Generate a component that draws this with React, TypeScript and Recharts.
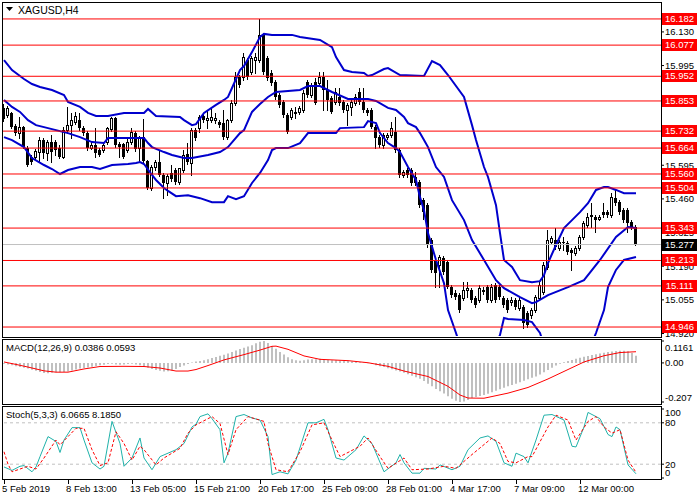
import React from 'react';
import { ComposedChart, Bar, Line, XAxis, YAxis, ReferenceLine } from 'recharts';

const FONT = '"Liberation Sans", Arial, sans-serif';

// bottom time axis: bar index -> label
const timeTicks = [0, 16, 32, 48, 64, 80, 96, 112, 128, 144];
const timeLabels = ['5 Feb 2019', '8 Feb 13:00', '13 Feb 05:00', '15 Feb 21:00', '20 Feb 17:00',
    '25 Feb 09:00', '28 Feb 01:00', '4 Mar 17:00', '7 Mar 09:00', '12 Mar 00:00'];

// XAGUSD H4 candles
const opens = [
    15.825, 15.797, 15.805, 15.752, 15.724, 15.748, 15.664, 15.628, 15.628, 15.648,
    15.696, 15.644, 15.688, 15.688, 15.664, 15.628, 15.736, 15.756, 15.768, 15.776,
    15.744, 15.724, 15.664, 15.676, 15.656, 15.656, 15.688, 15.740, 15.785, 15.680,
    15.680, 15.656, 15.688, 15.724, 15.664, 15.708, 15.612, 15.504, 15.588, 15.608,
    15.556, 15.524, 15.564, 15.576, 15.528, 15.576, 15.640, 15.604, 15.736, 15.744,
    15.793, 15.776, 15.776, 15.776, 15.768, 15.764, 15.708, 15.776, 15.845, 15.949,
    15.949, 16.017, 15.969, 16.017, 16.017, 16.118, 16.025, 15.965, 15.929, 15.877,
    15.849, 15.797, 15.789, 15.805, 15.809, 15.817, 15.929, 15.877, 15.929, 15.925,
    15.949, 15.897, 15.865, 15.849, 15.869, 15.849, 15.817, 15.829, 15.845, 15.889,
    15.849, 15.817, 15.817, 15.748, 15.708, 15.676, 15.708, 15.716, 15.728, 15.656,
    15.556, 15.576, 15.576, 15.548, 15.528, 15.455, 15.435, 15.295, 15.215, 15.195,
    15.223, 15.207, 15.106, 15.082, 15.074, 15.062, 15.094, 15.094, 15.062, 15.054,
    15.094, 15.106, 15.054, 15.114, 15.106, 15.062, 15.054, 15.046, 15.054, 15.022,
    15.026, 15.002, 14.994, 15.014, 15.062, 15.086, 15.187, 15.287, 15.295, 15.263,
    15.287, 15.283, 15.255, 15.243, 15.263, 15.307, 15.355, 15.395, 15.387, 15.379,
    15.407, 15.407, 15.395, 15.463, 15.447, 15.415, 15.415, 15.367, 15.347,
];
const highs = [
    15.841, 15.833, 15.809, 15.760, 15.789, 15.752, 15.672, 15.636, 15.660, 15.708,
    15.704, 15.696, 15.716, 15.696, 15.676, 15.748, 15.829, 15.805, 15.809, 15.805,
    15.752, 15.732, 15.688, 15.744, 15.664, 15.684, 15.748, 15.789, 15.789, 15.688,
    15.684, 15.708, 15.744, 15.732, 15.712, 15.780, 15.616, 15.596, 15.616, 15.656,
    15.564, 15.560, 15.596, 15.584, 15.584, 15.656, 15.684, 15.744, 15.744, 15.797,
    15.801, 15.817, 15.825, 15.805, 15.776, 15.817, 15.780, 15.857, 15.969, 15.957,
    16.045, 16.025, 16.033, 16.045, 16.182, 16.126, 16.033, 15.977, 15.937, 15.885,
    15.857, 15.805, 15.825, 15.829, 15.833, 15.897, 15.937, 15.925, 15.945, 15.969,
    15.969, 15.937, 15.873, 15.905, 15.905, 15.857, 15.845, 15.861, 15.881, 15.905,
    15.905, 15.825, 15.825, 15.756, 15.716, 15.724, 15.724, 15.768, 15.789, 15.664,
    15.576, 15.584, 15.584, 15.568, 15.536, 15.463, 15.443, 15.303, 15.223, 15.235,
    15.231, 15.215, 15.114, 15.094, 15.082, 15.126, 15.126, 15.102, 15.070, 15.114,
    15.106, 15.114, 15.118, 15.122, 15.114, 15.070, 15.062, 15.066, 15.062, 15.066,
    15.034, 15.010, 15.022, 15.074, 15.126, 15.207, 15.335, 15.311, 15.343, 15.295,
    15.307, 15.291, 15.263, 15.271, 15.315, 15.371, 15.403, 15.443, 15.395, 15.395,
    15.443, 15.415, 15.483, 15.496, 15.455, 15.423, 15.423, 15.375, 15.355,
];
const lows = [
    15.772, 15.789, 15.744, 15.716, 15.704, 15.664, 15.592, 15.600, 15.616, 15.608,
    15.624, 15.616, 15.608, 15.636, 15.624, 15.624, 15.724, 15.704, 15.760, 15.736,
    15.716, 15.656, 15.660, 15.628, 15.632, 15.648, 15.680, 15.732, 15.668, 15.628,
    15.624, 15.648, 15.680, 15.652, 15.608, 15.608, 15.500, 15.496, 15.576, 15.552,
    15.463, 15.476, 15.532, 15.520, 15.520, 15.568, 15.600, 15.556, 15.696, 15.728,
    15.768, 15.744, 15.768, 15.764, 15.748, 15.700, 15.700, 15.768, 15.837, 15.909,
    15.937, 15.941, 15.961, 15.965, 16.009, 15.961, 15.937, 15.917, 15.861, 15.829,
    15.789, 15.724, 15.780, 15.785, 15.801, 15.809, 15.869, 15.869, 15.841, 15.917,
    15.817, 15.817, 15.805, 15.841, 15.837, 15.809, 15.756, 15.797, 15.837, 15.841,
    15.809, 15.797, 15.744, 15.664, 15.668, 15.664, 15.700, 15.708, 15.648, 15.548,
    15.548, 15.548, 15.516, 15.516, 15.427, 15.379, 15.267, 15.167, 15.106, 15.106,
    15.159, 15.102, 15.066, 15.058, 15.006, 15.054, 15.066, 15.046, 15.026, 15.046,
    15.078, 15.046, 15.046, 15.046, 15.058, 15.026, 15.006, 15.034, 15.018, 15.014,
    14.942, 14.946, 14.982, 15.006, 15.054, 15.078, 15.179, 15.279, 15.259, 15.255,
    15.255, 15.239, 15.175, 15.235, 15.255, 15.299, 15.347, 15.347, 15.327, 15.375,
    15.387, 15.387, 15.387, 15.435, 15.399, 15.367, 15.327, 15.339, 15.275,
];
const closes = [
    15.780, 15.825, 15.748, 15.724, 15.748, 15.668, 15.596, 15.608, 15.652, 15.696,
    15.644, 15.688, 15.648, 15.656, 15.628, 15.736, 15.756, 15.776, 15.793, 15.744,
    15.724, 15.664, 15.676, 15.644, 15.636, 15.676, 15.744, 15.785, 15.676, 15.668,
    15.628, 15.688, 15.728, 15.660, 15.704, 15.612, 15.504, 15.588, 15.608, 15.556,
    15.524, 15.552, 15.540, 15.528, 15.584, 15.636, 15.608, 15.736, 15.704, 15.789,
    15.776, 15.785, 15.789, 15.785, 15.756, 15.708, 15.776, 15.845, 15.949, 15.917,
    16.029, 15.949, 16.025, 16.029, 16.118, 15.969, 15.945, 15.925, 15.869, 15.837,
    15.797, 15.728, 15.817, 15.809, 15.825, 15.885, 15.877, 15.917, 15.845, 15.949,
    15.897, 15.857, 15.809, 15.889, 15.845, 15.817, 15.837, 15.849, 15.869, 15.849,
    15.817, 15.805, 15.748, 15.704, 15.676, 15.716, 15.716, 15.744, 15.656, 15.556,
    15.568, 15.556, 15.524, 15.524, 15.435, 15.407, 15.275, 15.175, 15.163, 15.227,
    15.167, 15.106, 15.074, 15.066, 15.014, 15.094, 15.102, 15.054, 15.034, 15.102,
    15.086, 15.054, 15.106, 15.054, 15.066, 15.034, 15.014, 15.054, 15.026, 15.054,
    14.962, 14.954, 15.014, 15.066, 15.114, 15.195, 15.295, 15.303, 15.267, 15.287,
    15.283, 15.247, 15.243, 15.263, 15.307, 15.363, 15.387, 15.387, 15.375, 15.387,
    15.395, 15.395, 15.467, 15.443, 15.407, 15.375, 15.363, 15.347, 15.277,
];

// Bollinger bands, [bar index, price] read at the turning points
const bandUpper = [
    [0, 16.017], [2, 15.977], [5, 15.941], [7, 15.921], [9, 15.909], [12, 15.897], [15, 15.877], [16, 15.849],
    [19, 15.829], [21, 15.805], [23, 15.793], [26, 15.793], [30, 15.805], [35, 15.805], [36, 15.821], [38, 15.793],
    [44, 15.789], [45, 15.776], [47, 15.756], [48, 15.760], [50, 15.805], [53, 15.837], [55, 15.857], [56, 15.869],
    [57, 15.905], [59, 15.977], [60, 15.993], [62, 16.049], [64, 16.110], [65, 16.122], [67, 16.118], [72, 16.118],
    [74, 16.110], [79, 16.098], [82, 16.069], [83, 16.029], [85, 15.977], [87, 15.969], [90, 15.965], [91, 15.953],
    [92, 15.957], [95, 15.981], [96, 15.985], [99, 15.957], [105, 15.953], [107, 16.013], [109, 15.997], [111, 15.957],
    [115, 15.869], [117, 15.756], [118, 15.696], [120, 15.588], [121, 15.548], [123, 15.435], [124, 15.323], [125, 15.215],
    [127, 15.187], [129, 15.134], [132, 15.126], [134, 15.130], [135, 15.154], [136, 15.203], [138, 15.275], [140, 15.343],
    [142, 15.375], [144, 15.407], [146, 15.443], [148, 15.496], [150, 15.508], [151, 15.508], [153, 15.496], [155, 15.483],
    [158, 15.483],
];
const bandMiddle = [
    [0, 15.857], [2, 15.829], [4, 15.809], [6, 15.776], [8, 15.756], [10, 15.748], [13, 15.736], [16, 15.724],
    [19, 15.708], [22, 15.688], [25, 15.684], [26, 15.704], [30, 15.704], [35, 15.704], [36, 15.684], [37, 15.668],
    [40, 15.648], [42, 15.636], [45, 15.624], [47, 15.624], [51, 15.636], [54, 15.648], [56, 15.668], [59, 15.724],
    [60, 15.736], [62, 15.809], [64, 15.841], [66, 15.869], [68, 15.889], [74, 15.897], [76, 15.913], [79, 15.913],
    [82, 15.889], [86, 15.861], [91, 15.861], [93, 15.853], [96, 15.825], [98, 15.817], [100, 15.789], [101, 15.764],
    [103, 15.748], [104, 15.724], [105, 15.696], [106, 15.668], [108, 15.588], [110, 15.548], [112, 15.455], [115, 15.375],
    [117, 15.295], [120, 15.215], [123, 15.134], [125, 15.102], [129, 15.066], [132, 15.042], [133, 15.046], [136, 15.074],
    [141, 15.106], [145, 15.134], [149, 15.215], [153, 15.307], [156, 15.347], [158, 15.343],
];
const bandLower = [
    [0, 15.708], [2, 15.696], [5, 15.668], [7, 15.624], [10, 15.596], [12, 15.580], [14, 15.560], [16, 15.576],
    [19, 15.588], [22, 15.588], [24, 15.580], [27, 15.596], [31, 15.600], [33, 15.604], [34, 15.608], [35, 15.600],
    [37, 15.556], [38, 15.536], [40, 15.504], [41, 15.492], [43, 15.471], [46, 15.475], [49, 15.463], [52, 15.447],
    [55, 15.447], [56, 15.471], [58, 15.459], [60, 15.471], [62, 15.524], [64, 15.564], [66, 15.616], [67, 15.656],
    [68, 15.664], [71, 15.664], [74, 15.684], [76, 15.724], [83, 15.724], [84, 15.744], [90, 15.748], [91, 15.772],
    [93, 15.764], [94, 15.724], [96, 15.684], [98, 15.664], [99, 15.648], [101, 15.588], [103, 15.536], [104, 15.467],
    [105, 15.415], [106, 15.323], [108, 15.215], [110, 15.122], [111, 15.014], [113, 14.922], [114, 14.873], [116, 14.793],
    [118, 14.753], [120, 14.773], [122, 14.845], [124, 14.914], [125, 14.982], [126, 14.978], [130, 14.974], [132, 14.966],
    [134, 14.922], [135, 14.873], [136, 14.833], [138, 14.773], [141, 14.713], [144, 14.753], [146, 14.833], [147, 14.882],
    [148, 14.922], [150, 15.014], [151, 15.106], [153, 15.175], [155, 15.215], [158, 15.227],
];

const levels = [16.182, 16.077, 15.952, 15.853, 15.732, 15.664, 15.560, 15.504, 15.343, 15.213, 15.111, 14.946];
const lastPrice = 15.277;
const priceTicks = [16.130, 15.995, 15.595, 15.460, 15.325, 15.190, 15.055, 14.920];

// MACD(12,26,9): histogram per bar, signal line at read points
const macdHist = [
    -0.005, -0.008, -0.012, -0.018, -0.022, -0.026, -0.030, -0.036, -0.042, -0.048,
    -0.053, -0.055, -0.052, -0.050, -0.050, -0.048, -0.045, -0.040, -0.035, -0.030,
    -0.027, -0.024, -0.020, -0.016, -0.012, -0.010, -0.006, -0.004, -0.008, -0.010,
    -0.008, -0.006, -0.004, -0.008, -0.012, -0.018, -0.025, -0.032, -0.038, -0.042,
    -0.045, -0.044, -0.040, -0.032, -0.022, -0.014, -0.006, 0.002, 0.008, 0.010,
    0.014, 0.020, 0.026, 0.032, 0.038, 0.043, 0.050, 0.058, 0.066, 0.074,
    0.080, 0.087, 0.094, 0.104, 0.112, 0.116, 0.106, 0.090, 0.075, 0.058,
    0.044, 0.030, 0.020, 0.014, 0.012, 0.014, 0.018, 0.020, 0.020, 0.022,
    0.018, 0.016, 0.014, 0.014, 0.012, 0.010, 0.010, 0.008, 0.006, 0.004,
    0.002, -0.002, -0.006, -0.012, -0.018, -0.022, -0.028, -0.034, -0.040, -0.046,
    -0.052, -0.060, -0.068, -0.076, -0.084, -0.096, -0.110, -0.124, -0.138, -0.150,
    -0.162, -0.176, -0.190, -0.200, -0.207, -0.204, -0.196, -0.186, -0.180, -0.175,
    -0.170, -0.163, -0.155, -0.148, -0.140, -0.132, -0.124, -0.117, -0.110, -0.102,
    -0.094, -0.086, -0.078, -0.072, -0.062, -0.050, -0.038, -0.026, -0.014, -0.004,
    0.004, 0.010, 0.016, 0.022, 0.028, 0.033, 0.037, 0.042, 0.046, 0.050,
    0.054, 0.058, 0.061, 0.063, 0.065, 0.064, 0.062, 0.052, 0.0386,
];
const macdSignal = [
    [0, 0.005], [3, -0.008], [6, -0.022], [10, -0.042], [13, -0.049], [16, -0.049], [20, -0.032], [24, -0.019],
    [30, -0.018], [35, -0.019], [39, -0.027], [43, -0.043], [46, -0.043], [48, -0.035], [51, -0.014], [55, 0.016],
    [60, 0.044], [64, 0.068], [67, 0.088], [68, 0.089], [71, 0.072], [75, 0.037], [79, 0.019], [86, 0.012],
    [91, 0.001], [96, -0.018], [100, -0.043], [106, -0.072], [111, -0.124], [114, -0.170], [116, -0.186], [120, -0.187],
    [126, -0.160], [131, -0.130], [136, -0.085], [140, -0.045], [145, 0.005], [150, 0.038], [154, 0.055], [158, 0.0593],
];
const macdTicks = [0.1161, 0, -0.207];
const macdTickLabels = ['0.1161', '0.00', '-0.207'];

// Stoch(5,3,3), [bar index, value] at turning points
const stochMain = [
    [0, 16], [2, 11], [4, 17], [5, 18], [7, 9], [8, 16], [9, 31], [11, 60], [13, 53], [14, 37], [15, 55], [17, 73],
    [19, 73], [20, 55], [22, 22], [24, 13], [25, 17], [27, 82], [29, 50], [30, 17], [32, 29], [34, 58], [35, 29],
    [37, 12], [39, 31], [43, 41], [45, 50], [47, 74], [48, 78], [49, 89], [51, 93], [52, 86], [54, 70], [55, 22],
    [56, 36], [58, 89], [60, 92], [62, 87], [64, 84], [66, 60], [67, 5], [69, 9], [71, 6], [73, 26], [76, 80],
    [78, 80], [80, 85], [81, 70], [83, 29], [85, 26], [88, 41], [90, 61], [92, 50], [95, 9], [98, 22], [99, 34],
    [100, 22], [102, 7], [104, 7], [105, 14], [108, 13], [109, 19], [112, 12], [114, 17], [116, 41], [119, 58],
    [121, 61], [123, 53], [125, 22], [127, 17], [128, 36], [130, 31], [131, 22], [133, 55], [135, 91], [137, 92],
    [140, 84], [142, 46], [143, 45], [145, 74], [146, 95], [149, 86], [151, 63], [152, 60], [153, 74], [154, 70],
    [156, 19], [158, 6.0665],
];
const stochSignal = [
    [0, 38], [1, 20], [2, 9], [6, 17], [8, 13], [10, 29], [13, 55], [14, 48], [16, 60], [18, 72], [20, 72], [22, 41],
    [24, 18], [26, 22], [28, 67], [30, 50], [32, 26], [34, 46], [35, 41], [38, 19], [40, 29], [44, 43], [46, 65],
    [48, 77], [52, 89], [54, 79], [56, 34], [58, 70], [61, 89], [65, 82], [66, 50], [68, 12], [71, 9], [74, 38],
    [77, 77], [80, 80], [82, 55], [84, 31], [89, 46], [91, 58], [94, 31], [96, 14], [100, 29], [102, 12], [106, 13],
    [110, 17], [113, 14], [117, 34], [122, 58], [124, 50], [126, 24], [128, 22], [131, 31], [132, 31], [136, 74],
    [138, 91], [141, 84], [143, 55], [146, 82], [148, 89], [150, 74], [152, 65], [154, 70], [156, 26], [158, 8.185],
];
const stochTicks = [100, 80, 20, 0];

const lookup = (pts: number[][]) => new Map(pts.map(([i, v]) => [i, v]));
const upMap = lookup(bandUpper);
const midMap = lookup(bandMiddle);
const lowMap = lookup(bandLower);
const sigMap = lookup(macdSignal);
const kMap = lookup(stochMain);
const dMap = lookup(stochSignal);

const priceRows = opens.map((o, i) => ({
    i, o, h: highs[i], l: lows[i], c: closes[i],
    range: [lows[i], highs[i]],
    upper: upMap.get(i) ?? null,
    middle: midMap.get(i) ?? null,
    lower: lowMap.get(i) ?? null,
}));
const macdRows = macdHist.map((hist, i) => ({ i, hist, sig: sigMap.get(i) ?? null }));
const stochRows = opens.map((_, i) => ({ i, k: kMap.get(i) ?? null, d: dMap.get(i) ?? null }));

const X_DOMAIN = [-0.25, 164.25];
const PRICE_DOMAIN = [14.91, 16.246];
const textStyle = { fill: '#000', fontSize: 9.5, fontFamily: FONT };

const Candle = (props: any) => {
    const { x, y, width, height, payload } = props;
    if (!payload || x == null || y == null) return null;
    const { o, h, l, c } = payload;
    const top = Math.min(y, y + height);
    const bot = Math.max(y, y + height);
    const k = h > l ? (bot - top) / (h - l) : 0;
    const bTop = Math.round(top + (h - Math.max(o, c)) * k);
    const bBot = Math.round(top + (h - Math.min(o, c)) * k);
    const left = Math.round(x + width / 2 - 1.4);
    return (
        <g shapeRendering="crispEdges">
            <line x1={left + 1.5} x2={left + 1.5} y1={Math.round(top)} y2={Math.round(bot) + 1} stroke="#000" />
            {c >= o
                ? <rect x={left + 0.5} y={bTop + 0.5} width={2} height={Math.max(bBot - bTop, 1)} fill="#fff" stroke="#000" />
                : <rect x={left} y={bTop} width={3} height={Math.max(bBot - bTop, 1)} fill="#000" />}
        </g>
    );
};

const priceTag = (text: string, bg: string) => (props: any) => {
    const vb = props.viewBox;
    if (!vb) return null;
    const yy = Math.round(vb.y);
    const xx = vb.x + vb.width + 1;
    return (
        <g>
            <rect x={xx} y={yy - 6} width={35} height={12} fill={bg} />
            <text x={xx + 17.5} y={yy} dy="0.35em" textAnchor="middle" fill="#fff" fontSize={9.5} fontFamily={FONT}>{text}</text>
        </g>
    );
};

const sideTick = (ticks: number[], labels: string[], shifts: number[]) => (props: any) => {
    const n = ticks.indexOf(props.payload.value);
    return (
        <text x={props.x} y={props.y + (shifts[n] ?? 0)} dy="0.35em" textAnchor="start" {...textStyle}>
            {labels[n]}
        </text>
    );
};

const TimeTick = (props: any) => {
    const { x, y, payload } = props;
    const n = timeTicks.indexOf(payload.value);
    const px = Math.round(x) + 0.5;
    return (
        <g>
            <line x1={px} x2={px} y1={y + 1} y2={y + 6} stroke="#000" shapeRendering="crispEdges" />
            <text x={x - 2} y={y + 14} {...textStyle}>{timeLabels[n]}</text>
        </g>
    );
};

const frame = (top: number, height: number): React.CSSProperties => ({
    position: 'absolute', left: 2, top, width: 660, height,
    border: '1px solid #000', boxSizing: 'border-box', pointerEvents: 'none',
});

const caption = (top: number): React.CSSProperties => ({
    position: 'absolute', left: 6, top, fontFamily: FONT, fontSize: 9.5,
    lineHeight: '12px', color: '#000', whiteSpace: 'nowrap',
});

const MAIN_MARGIN = { top: 3, right: 0, bottom: 4, left: 3 };

export default function App() {
    return (
        <div style={{ position: 'absolute', left: 0, top: 0, width: 700, height: 500, background: '#fff', overflow: 'hidden' }}>
            {/* price panel: candles, bands and price scale */}
            <div style={{ position: 'absolute', left: 0, top: 0 }}>
                <ComposedChart width={700} height={340} data={priceRows} margin={MAIN_MARGIN}>
                    <XAxis dataKey="i" type="number" domain={X_DOMAIN} allowDataOverflow hide />
                    <YAxis
                        orientation="right" width={39} domain={PRICE_DOMAIN} allowDataOverflow
                        ticks={priceTicks} interval={0} tickSize={3} tickMargin={1}
                        axisLine={false} tickLine={{ stroke: '#000' }}
                        tick={textStyle} tickFormatter={(v: number) => v.toFixed(3)}
                    />
                    <Bar dataKey="range" barSize={3} shape={Candle} isAnimationActive={false} />
                    <Line type="linear" dataKey="upper" stroke="#0000cd" strokeWidth={2} dot={false} connectNulls isAnimationActive={false} />
                    <Line type="linear" dataKey="middle" stroke="#0000cd" strokeWidth={2} dot={false} connectNulls isAnimationActive={false} />
                    <Line type="linear" dataKey="lower" stroke="#0000cd" strokeWidth={2} dot={false} connectNulls isAnimationActive={false} />
                </ComposedChart>
            </div>

            {/* horizontal levels with their price tags, layered above the price scale */}
            <div style={{ position: 'absolute', left: 0, top: 0 }}>
                <ComposedChart width={700} height={340} data={priceRows} margin={MAIN_MARGIN}>
                    <XAxis dataKey="i" type="number" domain={X_DOMAIN} allowDataOverflow hide />
                    <YAxis orientation="right" width={39} domain={PRICE_DOMAIN} allowDataOverflow
                        tick={false} tickLine={false} axisLine={false} />
                    <ReferenceLine y={lastPrice} stroke="#c0c0c0" label={priceTag('15.277', '#000')} />
                    {levels.map((lv) => (
                        <ReferenceLine key={lv} y={lv} stroke="#ff0000" label={priceTag(lv.toFixed(3), '#ff0000')} />
                    ))}
                </ComposedChart>
            </div>

            <div style={{ position: 'absolute', left: 0, top: 338 }}>
                <ComposedChart width={700} height={66} data={macdRows} margin={{ top: 3, right: 0, bottom: 2, left: 3 }}>
                    <XAxis dataKey="i" type="number" domain={X_DOMAIN} allowDataOverflow hide />
                    <YAxis
                        orientation="right" width={39} domain={[-0.207, 0.1161]} allowDataOverflow
                        ticks={macdTicks} interval={0} tickSize={3} tickMargin={1}
                        axisLine={false} tickLine={{ stroke: '#000' }}
                        tick={sideTick(macdTicks, macdTickLabels, [7, 0, -4])}
                    />
                    <Bar dataKey="hist" fill="#c0c0c0" barSize={2} isAnimationActive={false} />
                    <Line type="linear" dataKey="sig" stroke="#ff0000" strokeWidth={1} dot={false} connectNulls isAnimationActive={false} />
                </ComposedChart>
            </div>

            <div style={{ position: 'absolute', left: 0, top: 406 }}>
                <ComposedChart width={700} height={94} data={stochRows} margin={{ top: 3, right: 0, bottom: 0, left: 3 }}>
                    <XAxis
                        dataKey="i" type="number" domain={X_DOMAIN} allowDataOverflow
                        ticks={timeTicks} interval={0} height={22} tickSize={0} tickMargin={0}
                        axisLine={false} tickLine={false} tick={TimeTick}
                    />
                    <YAxis
                        orientation="right" width={39} domain={[0, 100]} allowDataOverflow
                        ticks={stochTicks} interval={0} tickSize={3} tickMargin={1}
                        axisLine={false} tickLine={{ stroke: '#000' }}
                        tick={sideTick(stochTicks, ['100', '80', '20', '0'], [4, 0, 0, -5])}
                    />
                    <ReferenceLine y={80} stroke="#c0c0c0" strokeDasharray="3 3" />
                    <ReferenceLine y={20} stroke="#c0c0c0" strokeDasharray="3 3" />
                    <Line type="linear" dataKey="k" stroke="#20b2aa" strokeWidth={1} dot={false} connectNulls isAnimationActive={false} />
                    <Line type="linear" dataKey="d" stroke="#ff0000" strokeWidth={1} strokeDasharray="3 2" dot={false} connectNulls isAnimationActive={false} />
                </ComposedChart>
            </div>

            <div style={frame(2, 336)} />
            <div style={frame(339, 66)} />
            <div style={frame(406, 74)} />

            <div style={{ ...caption(4), fontSize: 10.5, display: 'flex', alignItems: 'center' }}>
                <svg width={8} height={6} style={{ marginRight: 4 }}>
                    <polygon points="0,0 7,0 3.5,4" fill="#000" />
                </svg>
                <span>XAGUSD,H4</span>
            </div>
            <div style={caption(342)}>MACD(12,26,9) 0.0386 0.0593</div>
            <div style={caption(409)}>Stoch(5,3,3) 6.0665 8.1850</div>
        </div>
    );
}
